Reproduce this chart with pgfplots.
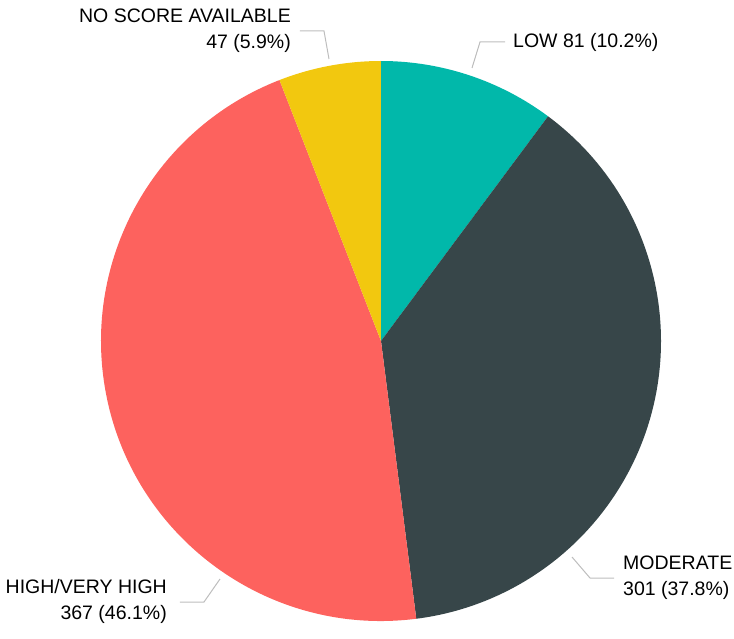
\documentclass[border=0pt]{standalone}
\usepackage{pgfplots}
\pgfplotsset{compat=1.18}
\usepackage{fontspec}
\setmainfont{Liberation Sans}

\definecolor{lowc}{HTML}{01B8AA}
\definecolor{modc}{HTML}{374649}
\definecolor{highc}{HTML}{FD625E}
\definecolor{noc}{HTML}{F2C80F}
\definecolor{leader}{HTML}{BDBDBD}

\begin{document}
\begin{tikzpicture}
\begin{axis}[
    hide axis,
    x=1pt, y=1pt,
    disabledatascaling,
    xmin=-381, xmax=353,
    ymin=-286, ymax=341,
    clip=false,
]
% counts: low, moderate, high/very high, no score (total 796)
\pgfplotsextra{
  \xdef\cum{0}
  \foreach \v/\c in {81/lowc, 301/modc, 367/highc, 47/noc}{
    \pgfmathsetmacro\a{90-\cum/796*360}
    \pgfmathsetmacro\b{90-(\cum+\v)/796*360}
    \fill[\c] (axis cs:0,0) -- ++(\a:280pt) arc[start angle=\a, end angle=\b, radius=280pt] -- cycle;
    \pgfmathsetmacro\newcum{\cum+\v}
    \xdef\cum{\newcum}
  }
}
\path (axis cs:-381,-286) rectangle (axis cs:353,341);

% leader lines
\draw[leader, line width=1pt] (axis cs:91,273) -- (axis cs:99,299) -- (axis cs:124,299);
\draw[leader, line width=1pt] (axis cs:-52,282) -- (axis cs:-57,310) -- (axis cs:-81,310);
\draw[leader, line width=1pt] (axis cs:191,-216) -- (axis cs:209,-237) -- (axis cs:233,-237);
\draw[leader, line width=1pt] (axis cs:-161,-238) -- (axis cs:-177,-261) -- (axis cs:-201,-261);

% labels
\tikzset{lbl/.style={inner sep=0pt, font=\fontsize{19.5}{26}\selectfont}}
\node[lbl, anchor=west] at (axis cs:132,299) {LOW 81 (10.2\%)};
\node[lbl, anchor=east, align=right] at (axis cs:-90,310) {NO SCORE AVAILABLE\\47 (5.9\%)};
\node[lbl, anchor=west, align=left] at (axis cs:242,-237) {MODERATE\\301 (37.8\%)};
\node[lbl, anchor=east, align=right] at (axis cs:-214,-260) {HIGH/VERY HIGH\\367 (46.1\%)};
\end{axis}
\end{tikzpicture}
\end{document}
